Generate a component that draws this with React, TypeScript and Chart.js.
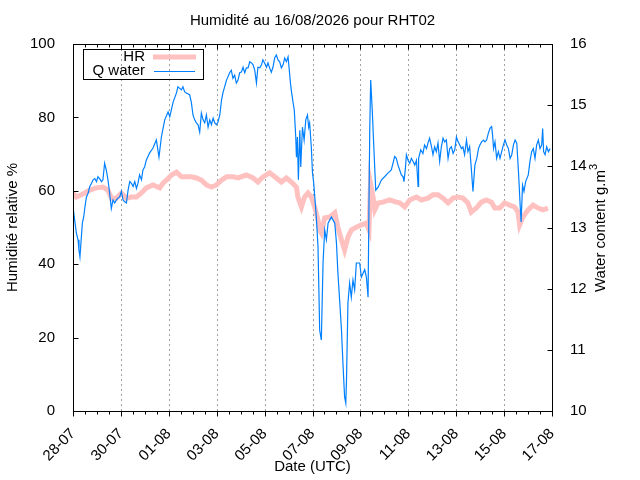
import { useEffect, useRef } from 'react';
import { Chart, registerables } from 'chart.js';

Chart.register(...registerables);

// x values are days since 28-07 00:00
const xTickLabels = ['28-07', '30-07', '01-08', '03-08', '05-08', '07-08', '09-08', '11-08', '13-08', '15-08', '17-08'];

const hrDays = [
  0.0, 0.14, 0.35, 0.49, 0.7, 0.98, 1.25, 1.46, 1.6, 1.81, 2.02, 2.23, 2.44, 2.65, 2.86, 3.06, 3.34, 3.62, 3.76, 3.9,
  4.11, 4.32, 4.53, 4.73, 4.94, 5.15, 5.36, 5.57, 5.78, 5.99, 6.2, 6.41, 6.68, 6.89, 7.24, 7.52, 7.72, 7.93, 8.21, 8.49,
  8.7, 8.91, 9.12, 9.33, 9.39, 9.54, 9.67, 9.81, 9.95, 10.09, 10.23, 10.3, 10.37, 10.51, 10.72, 10.93, 11.06, 11.21, 11.34, 11.48,
  11.62, 11.83, 12.04, 12.25, 12.36, 12.42, 12.53, 12.6, 12.74, 12.94, 13.22, 13.5, 13.64, 13.85, 14.06, 14.34, 14.55, 14.82, 15.03, 15.24,
  15.45, 15.66, 15.87, 16.08, 16.28, 16.49, 16.63, 16.84, 17.05, 17.26, 17.47, 17.61, 17.82, 18.02, 18.23, 18.44, 18.58, 18.65, 18.79, 19.0,
  19.21, 19.42, 19.62, 19.83,
];
const hrValues = [
  59.4, 58.3, 58.9, 59.4, 60.2, 60.8, 61.0, 60.2, 58.0, 58.0, 59.4, 58.0, 58.3, 58.3, 59.4, 60.8, 61.6, 60.8, 62.1, 62.9,
  64.3, 65.1, 63.8, 63.8, 63.8, 63.5, 62.9, 61.6, 61.0, 61.6, 62.9, 63.8, 63.8, 63.5, 64.3, 63.5, 62.4, 63.8, 64.9, 63.5,
  62.4, 63.5, 62.4, 61.0, 58.3, 55.6, 58.3, 59.4, 58.3, 55.6, 52.0, 49.3, 48.5, 52.6, 52.9, 54.0, 50.1, 46.6, 43.9, 47.4,
  49.3, 50.1, 50.7, 51.2, 49.3, 62.1, 58.3, 54.8, 56.7, 56.9, 57.5, 56.9, 56.7, 55.6, 57.5, 58.3, 57.5, 58.0, 58.9, 58.9,
  58.0, 56.7, 58.0, 58.3, 58.0, 56.7, 54.2, 55.3, 56.9, 57.5, 56.9, 55.3, 55.3, 56.7, 56.1, 55.6, 54.2, 50.7, 52.9, 54.8,
  56.1, 55.3, 54.8, 55.3,
];

const qDays = [
  0.0, 0.07, 0.14, 0.21, 0.25, 0.29, 0.35, 0.39, 0.45, 0.49, 0.56, 0.63, 0.7, 0.77, 0.84, 0.91, 0.98, 1.04, 1.11, 1.19,
  1.25, 1.32, 1.39, 1.46, 1.53, 1.6, 1.67, 1.74, 1.81, 1.88, 1.95, 2.02, 2.09, 2.16, 2.23, 2.3, 2.37, 2.44, 2.51, 2.58,
  2.65, 2.71, 2.78, 2.86, 2.92, 2.99, 3.06, 3.13,
  3.2, 3.34, 3.48, 3.59, 3.69, 3.83, 3.97, 4.04, 4.18, 4.32, 4.38, 4.53, 4.59, 4.66, 4.73, 4.87, 4.94, 5.01, 5.08, 5.15,
  5.22, 5.29, 5.36, 5.43, 5.5, 5.57, 5.64, 5.71, 5.78, 5.85, 5.92, 5.99, 6.05, 6.13, 6.2, 6.26, 6.33, 6.41,
  6.54, 6.61, 6.68, 6.75, 6.82, 6.89, 6.96, 7.03, 7.1, 7.17, 7.24, 7.31, 7.38, 7.45, 7.52, 7.59, 7.66, 7.72, 7.8, 7.87,
  7.93, 8.0, 8.08, 8.14, 8.21, 8.28, 8.35, 8.42, 8.49, 8.56, 8.63, 8.7, 8.77, 8.84, 8.91, 8.98, 9.02, 9.08, 9.13, 9.19,
  9.24, 9.3, 9.33, 9.37, 9.41, 9.47, 9.51, 9.58, 9.65, 9.72, 9.79, 9.84, 9.88, 9.95, 10.0, 10.05,
  10.16, 10.23, 10.3, 10.37, 10.44, 10.51, 10.58, 10.65, 10.72, 10.79, 10.86, 10.93, 11.0, 11.06, 11.14, 11.21, 11.27, 11.34, 11.39, 11.42,
  11.48, 11.55, 11.62, 11.69, 11.76, 11.83, 11.97, 12.04, 12.18, 12.25, 12.32, 12.39, 12.43, 12.5, 12.56, 12.64, 12.74, 12.88, 13.01, 13.15,
  13.29, 13.36,
  13.43, 13.5, 13.57, 13.64, 13.71, 13.78, 13.82, 13.88, 13.92, 13.99, 14.06, 14.13, 14.2, 14.27, 14.34, 14.41, 14.43, 14.52, 14.61, 14.68,
  14.76, 14.82, 14.89, 14.97, 15.03, 15.1, 15.17, 15.24, 15.31, 15.38, 15.45, 15.52, 15.59, 15.66, 15.73, 15.8, 15.87, 15.94, 16.01, 16.08,
  16.15, 16.22, 16.28, 16.35, 16.43, 16.49, 16.56, 16.63, 16.7,
  16.78, 16.86, 16.93, 16.99, 17.06, 17.14, 17.2, 17.27, 17.34, 17.41, 17.48, 17.52, 17.56, 17.62, 17.69, 17.76, 17.83, 17.9, 17.97, 18.04,
  18.11, 18.18, 18.25, 18.32, 18.39, 18.46, 18.53, 18.6, 18.67, 18.71, 18.77, 18.83, 18.9, 19.01, 19.08, 19.15, 19.22, 19.29, 19.36, 19.43,
  19.5, 19.57, 19.61, 19.65, 19.71, 19.78, 19.85, 19.92,
];
const qWater = [
  13.34, 13.12, 12.91, 12.8, 12.63, 12.52, 12.85, 13.07, 13.18, 13.31, 13.5, 13.56, 13.67, 13.72, 13.78, 13.8, 13.75, 13.83, 13.8, 13.75,
  13.78, 14.05, 13.94, 13.78, 13.56, 13.31, 13.45, 13.4, 13.45, 13.48, 13.5, 13.59, 13.45, 13.42, 13.4, 13.61, 13.75, 13.72, 13.67, 13.75,
  13.64, 13.72, 13.86, 13.78, 13.94, 13.99, 14.1, 14.16,
  14.22, 14.3, 14.43, 14.15, 14.48, 14.76, 14.89, 14.81, 15.05, 15.2, 15.3, 15.25, 15.3, 15.22, 15.2, 15.17, 15.05, 14.84, 14.76, 14.71,
  14.68, 14.56, 14.87, 14.76, 14.71, 14.84, 14.64, 14.76, 14.68, 14.79, 14.71, 14.68, 14.72, 14.84, 15.08, 15.2, 15.3, 15.41,
  15.53, 15.57, 15.44, 15.49, 15.36, 15.41, 15.53, 15.54, 15.62, 15.53, 15.61, 15.61, 15.71, 15.69, 15.66, 15.57, 15.36, 15.62, 15.61, 15.66,
  15.74, 15.69, 15.62, 15.69, 15.61, 15.54, 15.62, 15.77, 15.82, 15.74, 15.71, 15.61, 15.66, 15.77, 15.71, 15.79, 15.62, 15.36, 15.2, 15.04,
  14.92, 14.48, 14.15, 14.48, 13.78, 14.59, 13.99, 14.64, 14.43, 14.76, 14.84, 14.64, 14.71, 14.32, 13.89, 13.73,
  13.17, 12.68, 11.32, 11.16, 12.42, 12.96, 12.8, 13.07, 13.12, 13.17, 13.12, 13.07, 12.75, 12.26, 11.77, 11.32, 10.79, 10.23, 10.13, 10.51,
  11.77, 12.09, 11.86, 12.14, 11.98, 12.42, 12.42, 12.19, 12.31, 12.19, 11.86, 14.59, 15.41, 14.87, 14.32, 13.61, 13.66, 13.78, 13.83, 13.89,
  13.94, 14.05,
  14.16, 14.13, 14.02, 13.94, 13.86, 13.83, 13.75, 13.97, 14.19, 14.1, 14.05, 14.13, 14.08, 14.02, 14.1, 13.67, 14.13, 14.27, 14.21, 14.35,
  14.29, 14.38, 14.46, 14.32, 14.19, 14.32, 14.24, 14.38, 14.08, 14.32, 14.46, 14.4, 14.43, 14.13, 14.29, 14.32, 14.21, 14.27, 14.48, 14.4,
  14.35, 14.29, 14.32, 14.19, 14.43, 14.24, 14.32, 13.97, 13.59,
  14.02, 14.13, 14.29, 14.35, 14.4, 14.43, 14.4, 14.43, 14.54, 14.62, 14.65, 14.51, 14.29, 14.4, 14.13, 14.24, 14.13, 14.24, 14.35, 14.43,
  14.35, 14.29, 14.13, 14.19, 14.35, 14.43, 14.38, 13.91, 13.37, 13.09, 13.69, 13.59, 13.75, 13.86, 14.08, 14.24, 14.29, 14.13, 14.35, 14.43,
  14.29, 14.35, 14.62, 14.24, 14.19, 14.32, 14.24, 14.29,
];

const FONT = '"Liberation Sans", Arial, sans-serif';
const HR_COLOR = '#ffc0c0';
const Q_COLOR = '#0080ff';

// gnuplot-like frame: border, ticks, dotted grid, legend, title, y2 label
const gnuplotFrame = {
  id: 'gnuplotFrame',
  beforeDatasetsDraw(chart: any) {
    const { ctx, chartArea: a, scales } = chart;
    ctx.save();
    ctx.strokeStyle = '#a0a0a0';
    ctx.lineWidth = 1;
    ctx.setLineDash([2, 3]);
    for (let v = 2; v < 20; v += 2) {
      const x = Math.round(scales.x.getPixelForValue(v)) + 0.5;
      ctx.beginPath();
      ctx.moveTo(x, a.top);
      ctx.lineTo(x, a.bottom);
      ctx.stroke();
    }
    ctx.restore();
  },
  afterDatasetsDraw(chart: any) {
    const { ctx, chartArea: a, scales } = chart;
    ctx.save();
    ctx.strokeStyle = '#000';
    ctx.lineWidth = 1;
    const L = Math.round(a.left) + 0.5;
    const R = Math.round(a.right) + 0.5;
    const T = Math.round(a.top) + 0.5;
    const B = Math.round(a.bottom) + 0.5;
    ctx.strokeRect(L, T, R - L, B - T);
    ctx.beginPath();
    for (let v = 0; v <= 100; v += 20) {
      const y = Math.round(scales.y.getPixelForValue(v)) + 0.5;
      ctx.moveTo(L, y);
      ctx.lineTo(L + 5, y);
    }
    for (let v = 10; v <= 16; v += 1) {
      const y = Math.round(scales.y2.getPixelForValue(v)) + 0.5;
      ctx.moveTo(R, y);
      ctx.lineTo(R - 5, y);
    }
    for (let h = 0; h <= 40; h++) {
      const x = Math.round(scales.x.getPixelForValue(h / 2)) + 0.5;
      const len = h % 4 === 0 ? 5 : 3;
      ctx.moveTo(x, B);
      ctx.lineTo(x, B + len);
      ctx.moveTo(x, T);
      ctx.lineTo(x, T + len);
    }
    ctx.stroke();

    // legend
    ctx.strokeRect(83.5, 49.5, 120, 30);
    ctx.font = `15px ${FONT}`;
    ctx.fillStyle = '#000';
    ctx.textAlign = 'right';
    ctx.textBaseline = 'middle';
    ctx.fillText('HR', 145, 57);
    ctx.fillText('Q water', 145, 71);
    ctx.lineCap = 'butt';
    ctx.strokeStyle = HR_COLOR;
    ctx.lineWidth = 5;
    ctx.beginPath();
    ctx.moveTo(153, 57);
    ctx.lineTo(196, 57);
    ctx.stroke();
    ctx.strokeStyle = Q_COLOR;
    ctx.lineWidth = 1;
    ctx.beginPath();
    ctx.moveTo(154, 71.5);
    ctx.lineTo(195, 71.5);
    ctx.stroke();

    // title
    ctx.fillStyle = '#000';
    ctx.textAlign = 'center';
    ctx.textBaseline = 'middle';
    ctx.font = `15px ${FONT}`;
    ctx.fillText('Humidité au 16/08/2026 pour RHT02', (a.left + a.right) / 2, 21);

    // y2 label with superscript
    const main = 'Water content g.m';
    ctx.font = `15px ${FONT}`;
    const w1 = ctx.measureText(main).width;
    ctx.font = `11px ${FONT}`;
    const w2 = ctx.measureText('3').width;
    ctx.translate(601, 228);
    ctx.rotate(-Math.PI / 2);
    ctx.textAlign = 'left';
    ctx.textBaseline = 'middle';
    const start = -(w1 + w2) / 2;
    ctx.font = `15px ${FONT}`;
    ctx.fillText(main, start, 0);
    ctx.font = `11px ${FONT}`;
    ctx.fillText('3', start + w1, -7);
    ctx.restore();
  },
};

export default function App() {
  const canvasRef = useRef<HTMLCanvasElement | null>(null);
  const chartRef = useRef<Chart | null>(null);

  useEffect(() => {
    document.body.style.margin = '0';
    const ctx = canvasRef.current?.getContext('2d');
    if (!ctx) return;
    if (chartRef.current) chartRef.current.destroy();

    const tickFont = { family: FONT, size: 15 };

    chartRef.current = new Chart(ctx, {
      type: 'line',
      data: {
        datasets: [
          {
            label: 'HR',
            data: hrDays.map((d, i) => ({ x: d, y: hrValues[i] })),
            yAxisID: 'y',
            borderColor: HR_COLOR,
            borderWidth: 5,
            pointRadius: 0,
            tension: 0,
            order: 2,
          },
          {
            label: 'Q water',
            data: qDays.map((d, i) => ({ x: d, y: qWater[i] })),
            yAxisID: 'y2',
            borderColor: Q_COLOR,
            borderWidth: 1.2,
            pointRadius: 0,
            tension: 0,
            order: 1,
          },
        ],
      },
      options: {
        animation: false,
        responsive: false,
        layout: { padding: { top: 44, right: 28, left: 0, bottom: 0 } },
        plugins: {
          legend: { display: false },
          title: { display: false },
          tooltip: { enabled: false },
        },
        scales: {
          x: {
            type: 'linear',
            min: 0,
            max: 20,
            grid: { display: false },
            border: { display: false },
            ticks: {
              stepSize: 2,
              minRotation: 45,
              maxRotation: 45,
              padding: 6,
              color: '#000',
              font: tickFont,
              callback: (v: any) => xTickLabels[Math.round(Number(v) / 2)] ?? '',
            },
            title: { display: true, text: 'Date (UTC)', color: '#000', font: tickFont, padding: { top: 0, bottom: 4 } },
            afterFit: (s: any) => {
              s.height = 69;
            },
          },
          y: {
            position: 'left',
            min: 0,
            max: 100,
            grid: { display: false },
            border: { display: false },
            ticks: { stepSize: 20, padding: 10, color: '#000', font: tickFont },
            title: { display: true, text: 'Humidité relative %', color: '#000', font: tickFont, padding: { top: 4, bottom: 0 } },
            afterFit: (s: any) => {
              s.width = 73;
            },
          },
          y2: {
            position: 'right',
            min: 10,
            max: 16,
            grid: { display: false },
            border: { display: false },
            ticks: { stepSize: 1, padding: 10, color: '#000', font: tickFont },
            afterFit: (s: any) => {
              s.width = 60;
            },
          },
        },
      },
      plugins: [gnuplotFrame],
    });

    return () => {
      chartRef.current?.destroy();
      chartRef.current = null;
    };
  }, []);

  return (
    <div style={{ width: 640, height: 480, background: '#fff' }}>
      <canvas ref={canvasRef} width={640} height={480}></canvas>
    </div>
  );
}
